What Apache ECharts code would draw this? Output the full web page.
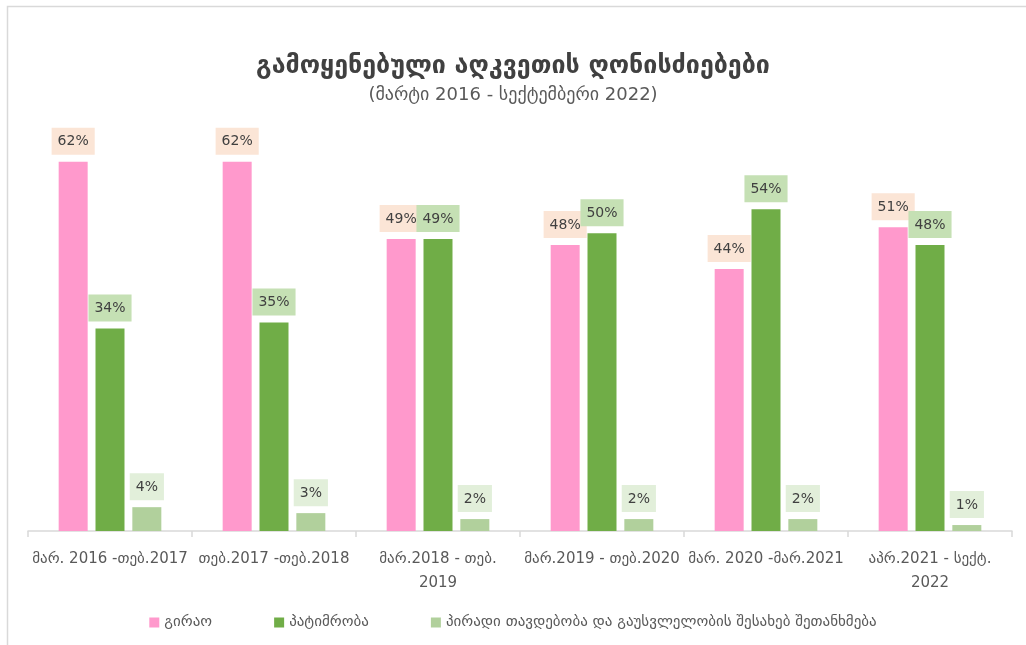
<!DOCTYPE html>
<html>
<head>
    <meta charset="utf-8">
    <script src="https://cdn.jsdelivr.net/npm/echarts@6/dist/echarts.min.js"></script>
    <style type="text/css">
        html, body { width: 100%; height: 100%; margin: 0; background: #fff; }
        #chart { width: 1026px; height: 645px; }
    </style>
</head>
<body>
<div id="chart"></div>
<script type="text/javascript">
    // ღონისძიებების წილი პერიოდების მიხედვით (%)
    var periods = ['მარ. 2016 -თებ.2017', 'თებ.2017 -თებ.2018', 'მარ.2018 - თებ.\n2019',
        'მარ.2019 - თებ.2020', 'მარ. 2020 -მარ.2021', 'აპრ.2021 - სექტ.\n2022'];
    var seriesNames = ['გირაო', 'პატიმრობა', 'პირადი თავდებობა და გაუსვლელობის შესახებ შეთანხმება'];
    var bail = [62, 62, 49, 48, 44, 51];
    var detention = [34, 35, 49, 50, 54, 48];
    var guarantee = [4, 3, 2, 2, 2, 1];

    var barColors = ['#ff99cc', '#70ad47', '#b1d09c'];
    var labelBg = ['#fbe5d6', '#c5e0b4', '#e2efda'];
    var font = '"DejaVu Sans", "Noto Sans", sans-serif';

    function makeSeries(i, data) {
        return {
            name: seriesNames[i],
            type: 'bar',
            data: data,
            barWidth: 29,
            barGap: '27%',
            itemStyle: { color: barColors[i] },
            label: {
                show: true,
                position: 'top',
                distance: 7,
                formatter: '{c}%',
                color: '#404040',
                fontSize: 14,
                fontFamily: font,
                backgroundColor: labelBg[i],
                padding: [7, 6, 6, 6]
            }
        };
    }

    var myChart = echarts.init(document.getElementById('chart'));
    myChart.setOption({
        animation: false,
        backgroundColor: '#fff',
        graphic: [{
            type: 'rect',
            shape: { x: 7.5, y: 6.5, width: 1040, height: 660 },
            style: { fill: 'none', stroke: '#d9d9d9', lineWidth: 1.5 },
            silent: true
        }],
        title: {
            text: 'გამოყენებული აღკვეთის ღონისძიებები',
            subtext: '(მარტი 2016 - სექტემბერი 2022)',
            left: 'center',
            top: 49,
            itemGap: 7,
            textStyle: { fontSize: 25, fontWeight: 'bold', color: '#404040', fontFamily: font },
            subtextStyle: { fontSize: 18, color: '#595959', fontFamily: font }
        },
        legend: {
            bottom: 10,
            left: 'center',
            itemWidth: 10,
            itemHeight: 10,
            itemGap: 62,
            icon: 'rect',
            textStyle: { fontSize: 15, color: '#595959', fontFamily: font }
        },
        grid: { left: 28, right: 14, top: 114, bottom: 114 },
        xAxis: {
            type: 'category',
            data: periods,
            axisLine: { lineStyle: { color: '#d9d9d9', width: 1.5 } },
            axisTick: { show: true, length: 6, lineStyle: { color: '#d9d9d9', width: 1.5 } },
            axisLabel: {
                interval: 0,
                margin: 16,
                fontSize: 15,
                lineHeight: 24,
                color: '#595959',
                fontFamily: font
            }
        },
        yAxis: {
            type: 'value',
            min: 0,
            max: 70,
            show: false,
            splitLine: { show: false }
        },
        series: [
            makeSeries(0, bail),
            makeSeries(1, detention),
            makeSeries(2, guarantee)
        ]
    });
</script>
</body>
</html>
